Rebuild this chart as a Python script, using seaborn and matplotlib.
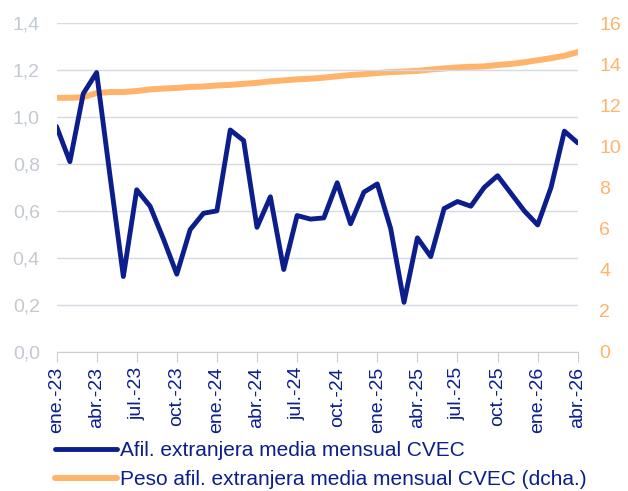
import matplotlib
matplotlib.use('Agg')
from matplotlib import pyplot as plt
import pandas as pd
import seaborn as sns

# months ene.-23 .. abr.-26
meses = ['ene.', 'feb.', 'mar.', 'abr.', 'may.', 'jun.', 'jul.', 'ago.', 'sep.', 'oct.', 'nov.', 'dic.']
etiquetas = [f'{meses[i % 12]}-{23 + i // 12}' for i in range(40)]

afil = [0.96, 0.81, 1.10, 1.19, 0.75, 0.32, 0.69, 0.62, 0.48, 0.33,
        0.52, 0.59, 0.60, 0.945, 0.90, 0.53, 0.66, 0.35, 0.58, 0.565,
        0.57, 0.72, 0.545, 0.68, 0.715, 0.525, 0.21, 0.485, 0.405, 0.61,
        0.64, 0.62, 0.70, 0.75, 0.675, 0.60, 0.54, 0.70, 0.94, 0.89]

peso = [12.37, 12.37, 12.40, 12.60, 12.65, 12.65, 12.70, 12.78, 12.82, 12.85,
        12.90, 12.92, 12.97, 13.00, 13.05, 13.10, 13.17, 13.22, 13.27, 13.30,
        13.35, 13.42, 13.48, 13.52, 13.58, 13.62, 13.65, 13.68, 13.75, 13.80,
        13.85, 13.88, 13.90, 13.97, 14.02, 14.10, 14.20, 14.30, 14.42, 14.60]

df = pd.DataFrame({'mes': range(40), 'afil': afil, 'peso': peso})

sns.set_style('white')
plt.rcParams['font.family'] = ['Liberation Sans', 'DejaVu Sans']

azul = '#0b1e8c'
naranja = '#ffb36b'
gris = '#c3c9d2'

fig, ax = plt.subplots(figsize=(6.28, 4.91), dpi=100)
fig.subplots_adjust(left=0.09, right=0.92, top=0.9525, bottom=0.284)
ax2 = ax.twinx()

sns.lineplot(data=df, x='mes', y='afil', ax=ax, color=azul, linewidth=3.5,
             label='Afil. extranjera media mensual CVEC', legend=False)
sns.lineplot(data=df, x='mes', y='peso', ax=ax2, color=naranja, linewidth=4.3,
             label='Peso afil. extranjera media mensual CVEC (dcha.)', legend=False)
ax.set_zorder(ax2.get_zorder() + 1)
ax.patch.set_visible(False)

ax.set_ylim(0, 1.4)
ax.set_yticks([0, 0.2, 0.4, 0.6, 0.8, 1.0, 1.2, 1.4])
ax.set_yticklabels([f'{v:.1f}'.replace('.', ',') for v in ax.get_yticks()])
ax2.set_ylim(0, 16)
ax2.set_yticks(range(0, 17, 2))
ax.set_xlim(0, 39)
ax.set_xticks(range(0, 40, 3))
ax.set_xticklabels(etiquetas[::3], rotation=90)
ax.set_xlabel('')
ax.set_ylabel('')
ax2.set_ylabel('')

ax.grid(axis='y', color='#d6dbe3', linewidth=1)
for a in (ax, ax2):
    for s in a.spines.values():
        s.set_visible(False)
ax.spines['bottom'].set_visible(True)
ax.spines['bottom'].set_color('#c8ccd4')

ax.tick_params(axis='y', length=0, labelsize=14, labelcolor=gris, pad=12)
ax2.tick_params(axis='y', length=0, labelsize=14, labelcolor=naranja, pad=15.5)
ax.tick_params(axis='x', length=7, color='#c8ccd4', labelsize=14, labelcolor=azul,
               bottom=True, pad=4)

h1, l1 = ax.get_legend_handles_labels()
h2, l2 = ax2.get_legend_handles_labels()
fig.legend(h1 + h2, l1 + l2, loc='upper left', bbox_to_anchor=(0.087, 0.102),
           frameon=False, fontsize=15, labelcolor=azul, handlelength=3.0,
           handletextpad=0.15, labelspacing=0.5, borderaxespad=0, borderpad=0)

plt.savefig('out.png', dpi=100)
